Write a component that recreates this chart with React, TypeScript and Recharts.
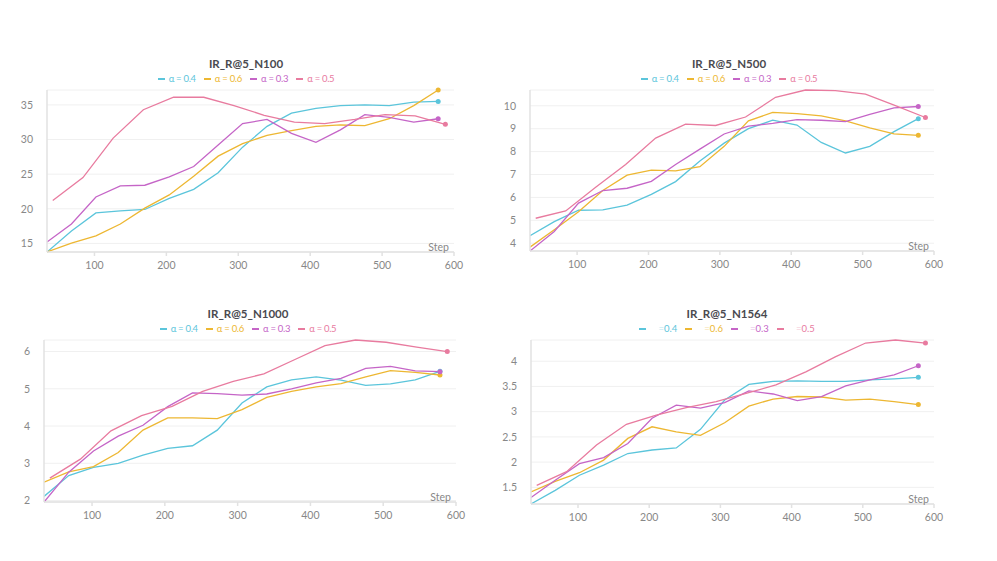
import React from 'react';
import { LineChart, Line, XAxis, YAxis, CartesianGrid } from 'recharts';

const stepsA = [34, 68, 102, 136, 170, 204, 238, 272, 306, 340, 374, 408, 442, 476, 510, 544, 578];
const stepsB = [42, 84, 126, 168, 210, 252, 294, 336, 378, 420, 462, 504, 546, 588];
const xTicks = [100, 200, 300, 400, 500, 600];

const n100_a04 = [13.76, 16.8, 19.4, 19.7, 19.9, 21.5, 22.8, 25.2, 28.9, 31.9, 33.8, 34.5, 34.9, 35.0, 34.9, 35.4, 35.5];
const n100_a06 = [13.76, 15.05, 16.1, 17.8, 20.1, 22.0, 24.7, 27.6, 29.4, 30.6, 31.3, 31.9, 32.1, 32.0, 33.0, 34.9, 37.15];
const n100_a03 = [15.2, 17.8, 21.7, 23.3, 23.4, 24.6, 26.1, 29.2, 32.3, 32.9, 30.9, 29.6, 31.4, 33.6, 33.2, 32.5, 33.0];
const n100_a05 = [21.2, 24.5, 30.2, 34.3, 36.1, 36.1, 34.9, 33.5, 32.5, 32.3, 32.9, 33.6, 33.4, 32.2];
const n100_ticks = [15, 20, 25, 30, 35];

const n500_a04 = [4.33, 4.94, 5.44, 5.46, 5.66, 6.13, 6.69, 7.59, 8.37, 9.0, 9.37, 9.16, 8.4, 7.94, 8.23, 8.87, 9.44];
const n500_a06 = [3.83, 4.59, 5.37, 6.3, 6.97, 7.19, 7.16, 7.34, 8.23, 9.34, 9.71, 9.66, 9.56, 9.34, 9.04, 8.77, 8.71];
const n500_a03 = [3.66, 4.51, 5.75, 6.3, 6.4, 6.7, 7.44, 8.11, 8.77, 9.11, 9.23, 9.4, 9.37, 9.31, 9.63, 9.91, 9.97];
const n500_a05 = [5.09, 5.41, 6.44, 7.44, 8.59, 9.2, 9.14, 9.51, 10.37, 10.69, 10.66, 10.51, 10.01, 9.49];
const n500_ticks = [4, 5, 6, 7, 8, 9, 10];

const n1000_a04 = [2.11, 2.67, 2.89, 3.0, 3.22, 3.4, 3.47, 3.89, 4.62, 5.05, 5.24, 5.32, 5.23, 5.09, 5.13, 5.24, 5.47];
const n1000_a06 = [2.49, 2.77, 2.91, 3.29, 3.89, 4.22, 4.22, 4.2, 4.44, 4.77, 4.93, 5.05, 5.14, 5.32, 5.49, 5.44, 5.37];
const n1000_a03 = [1.96, 2.76, 3.33, 3.73, 4.02, 4.52, 4.89, 4.87, 4.83, 4.86, 5.0, 5.16, 5.28, 5.55, 5.6, 5.48, 5.46];
const n1000_a05 = [2.6, 3.11, 3.87, 4.28, 4.53, 4.93, 5.2, 5.4, 5.78, 6.16, 6.31, 6.25, 6.12, 6.0];
const n1000_ticks = [2, 3, 4, 5, 6];

const n1564_a04 = [1.17, 1.44, 1.74, 1.94, 2.17, 2.24, 2.28, 2.65, 3.23, 3.54, 3.6, 3.61, 3.6, 3.6, 3.63, 3.65, 3.68];
const n1564_a06 = [1.41, 1.62, 1.79, 2.04, 2.47, 2.7, 2.6, 2.53, 2.78, 3.11, 3.25, 3.3, 3.29, 3.23, 3.25, 3.2, 3.14];
const n1564_a03 = [1.3, 1.64, 1.97, 2.09, 2.37, 2.87, 3.13, 3.07, 3.18, 3.41, 3.35, 3.22, 3.3, 3.51, 3.63, 3.73, 3.91];
const n1564_a05 = [1.54, 1.81, 2.34, 2.75, 2.93, 3.08, 3.2, 3.36, 3.53, 3.79, 4.09, 4.36, 4.42, 4.36];
const n1564_ticks = [1.5, 2, 2.5, 3, 3.5, 4];

const seriesNames = ['α = 0.4', 'α = 0.6', 'α = 0.3', 'α = 0.5'];
const seriesValues = ['0.4', '0.6', '0.3', '0.5'];
const colors = ['#5BC5DB', '#EDB732', '#C565C7', '#E87B9F'];

const FONT = 'Lato, "Noto Sans", sans-serif';

const toRows = (steps: number[], vals: number[]) => steps.map((s, i) => ({ step: s, v: vals[i] }));

const lastDot = (color: string, len: number) => (props: any) => {
  const { cx, cy, index } = props;
  if (index !== len - 1) return <g key={`d${index}`} />;
  return <circle key={`d${index}`} cx={cx} cy={cy} r={2.5} fill={color} stroke="none" />;
};

type PanelProps = {
  title: string;
  series: number[][];
  yTicks: number[];
  left: number;
  top: number;
  width: number;
  yWidth: number;
  bottom: number;
  titleX: number;
  noAlpha?: boolean;
};

function Panel({ title, series, yTicks, left, top, width, yWidth, bottom, titleX, noAlpha }: PanelProps) {
  const height = 200;
  const plotRight = left + width - 16;
  return (
    <>
      <div
        style={{
          position: 'absolute',
          left: titleX - 150,
          width: 300,
          top: top - 23,
          textAlign: 'center',
          fontFamily: FONT,
          fontWeight: 700,
          fontSize: 11.5,
          color: '#4a4a50',
          lineHeight: '14px',
        }}
      >
        {title}
      </div>
      <div
        style={{
          position: 'absolute',
          left: titleX - 150,
          width: 300,
          top: top - 7,
          display: 'flex',
          justifyContent: 'center',
          fontFamily: FONT,
          fontSize: 9.5,
          lineHeight: '12px',
        }}
      >
        {series.map((_, i) => (
          <span key={i} style={{ display: 'inline-flex', alignItems: 'center', marginRight: i < 3 ? 8 : 0, color: colors[i] }}>
            <span style={{ display: 'inline-block', width: 7, height: 2, background: colors[i], marginRight: 4 }} />
            {noAlpha ? (
              <span style={{ whiteSpace: 'pre' }}>
                <span style={{ visibility: 'hidden' }}>α </span>
                <span style={{ opacity: 0.45 }}>=</span>
                {seriesValues[i]}
              </span>
            ) : (
              <span style={{ whiteSpace: 'pre', letterSpacing: -0.3 }}>{seriesNames[i]}</span>
            )}
          </span>
        ))}
      </div>
      <div style={{ position: 'absolute', left, top, width, height }}>
        <LineChart width={width} height={height} margin={{ top: 10, right: 16, left: 0, bottom: bottom - 20 }}>
          <CartesianGrid vertical={false} stroke="#f0f0f0" strokeWidth={1} />
          <XAxis
            type="number"
            dataKey="step"
            domain={[34, 600]}
            ticks={xTicks}
            allowDataOverflow
            height={20}
            stroke="#e2e2e2"
            strokeWidth={1.5}
            tickSize={4}
            tickMargin={6}
            tick={{ fill: '#888', fontSize: 10.5, fontFamily: FONT }}
          />
          <YAxis
            type="number"
            domain={['dataMin', 'dataMax']}
            ticks={yTicks}
            width={yWidth}
            stroke="#e2e2e2"
            strokeWidth={1.5}
            tickLine={false}
            tickMargin={8}
            interval={0}
            tick={{ fill: '#888', fontSize: 10.5, fontFamily: FONT }}
          />
          {series.map((vals, i) => {
            const steps = i === 3 ? stepsB : stepsA;
            return (
              <Line
                key={i}
                data={toRows(steps, vals)}
                dataKey="v"
                type="linear"
                stroke={colors[i]}
                strokeWidth={1.3}
                dot={lastDot(colors[i], vals.length)}
                activeDot={false}
                isAnimationActive={false}
              />
            );
          })}
        </LineChart>
      </div>
      <div
        style={{
          position: 'absolute',
          left: plotRight - 60,
          width: 55,
          textAlign: 'right',
          top: top + height - bottom - 11,
          fontFamily: FONT,
          fontSize: 10.5,
          color: '#888',
          lineHeight: '12px',
        }}
      >
        Step
      </div>
    </>
  );
}

export default function App() {
  return (
    <div style={{ position: 'absolute', left: 0, top: 0, width: 997, height: 561, background: '#fff', overflow: 'hidden' }}>
      <Panel
        title="IR_R@5_N100"
        series={[n100_a04, n100_a06, n100_a03, n100_a05]}
        yTicks={n100_ticks}
        left={0}
        top={80}
        width={470}
        yWidth={47}
        bottom={28}
        titleX={246}
      />
      <Panel
        title="IR_R@5_N500"
        series={[n500_a04, n500_a06, n500_a03, n500_a05]}
        yTicks={n500_ticks}
        left={480}
        top={80}
        width={470}
        yWidth={50}
        bottom={29}
        titleX={729}
      />
      <Panel
        title="IR_R@5_N1000"
        series={[n1000_a04, n1000_a06, n1000_a03, n1000_a05]}
        yTicks={n1000_ticks}
        left={0}
        top={330}
        width={472}
        yWidth={44}
        bottom={28}
        titleX={248}
      />
      <Panel
        title="IR_R@5_N1564"
        series={[n1564_a04, n1564_a06, n1564_a03, n1564_a05]}
        yTicks={n1564_ticks}
        left={480}
        top={330}
        width={470}
        yWidth={51}
        bottom={26}
        titleX={727}
        noAlpha
      />
    </div>
  );
}
